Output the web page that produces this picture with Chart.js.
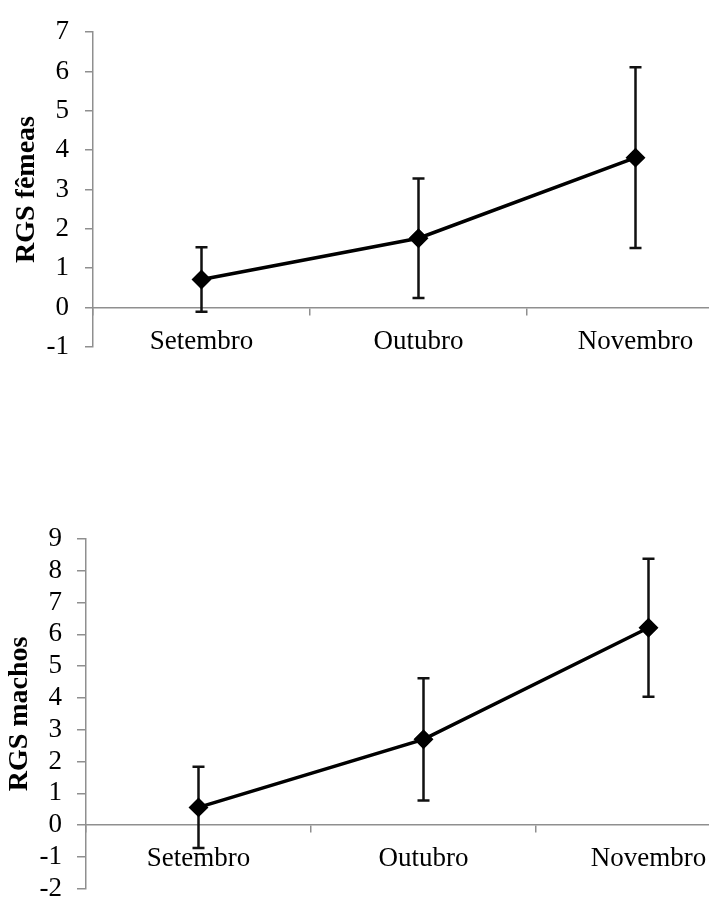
<!DOCTYPE html>
<html>
<head>
<meta charset="utf-8">
<script src="https://cdn.jsdelivr.net/npm/chart.js@4.4.1/dist/chart.umd.min.js"></script>
<style>
  html, body { margin: 0; padding: 0; background: #fff; overflow: hidden; width: 709px; height: 899px; }
  canvas { position: absolute; left: 0; }
  #chartFemeas { top: 0; }
  #chartMachos { top: 500px; }
</style>
</head>
<body>
<canvas id="chartFemeas" width="760" height="379"></canvas>
<canvas id="chartMachos" width="780" height="420"></canvas>
<script>
// Meses amostrados
const months = ["Setembro", "Outubro", "Novembro"];

// RGS médio e desvio padrão - fêmeas
const femeasMedia = [0.71, 1.76, 3.81];
const femeasDesvio = [0.82, 1.52, 2.30];

// RGS médio e desvio padrão - machos
const machosMedia = [0.56, 2.70, 6.21];
const machosDesvio = [1.28, 1.92, 2.17];

const axisGray = "#8f8f8f";
const fontFamily = "'Liberation Serif', 'Times New Roman', serif";

// Desenha as barras de erro usando as escalas do gráfico
const errorBarPlugin = {
    id: "errorBars",
    beforeDatasetsDraw(chart) {
        const ctx = chart.ctx;
        const yScale = chart.scales.y;
        const meta = chart.getDatasetMeta(0);
        const dataset = chart.data.datasets[0];
        ctx.save();
        ctx.strokeStyle = "#111";
        ctx.lineWidth = 2.5;
        meta.data.forEach((point, i) => {
            const mean = dataset.data[i];
            const sd = dataset.errors[i];
            const top = yScale.getPixelForValue(mean + sd);
            const bottom = yScale.getPixelForValue(mean - sd);
            const x = point.x;
            ctx.beginPath();
            ctx.moveTo(x, top);
            ctx.lineTo(x, bottom);
            ctx.moveTo(x - 6, top);
            ctx.lineTo(x + 6, top);
            ctx.moveTo(x - 6, bottom);
            ctx.lineTo(x + 6, bottom);
            ctx.stroke();
        });
        ctx.restore();
    },
};

function generateRgsChart(canvasId, values, errors, cfg) {
    const ctx = document.getElementById(canvasId).getContext("2d");
    new Chart(ctx, {
        type: "line",
        data: {
            labels: months,
            datasets: [
                {
                    data: values,
                    errors: errors,
                    borderColor: "#000",
                    borderWidth: 3.5,
                    pointStyle: "rectRot",
                    pointRadius: 7.5,
                    pointBackgroundColor: "#000",
                    pointBorderColor: "#000",
                    tension: 0,
                },
            ],
        },
        options: {
            responsive: false,
            animation: false,
            devicePixelRatio: 1,
            layout: { padding: cfg.padding },
            plugins: {
                legend: { display: false },
                tooltip: { enabled: false },
            },
            scales: {
                x: {
                    type: "category",
                    offset: true,
                    position: { y: 0 },
                    border: { color: axisGray, width: 1.5 },
                    grid: {
                        offset: true,
                        drawOnChartArea: false,
                        color: axisGray,
                        lineWidth: 1.5,
                        tickLength: 7,
                    },
                    ticks: {
                        color: "#000",
                        padding: 11,
                        maxRotation: 0,
                        autoSkip: false,
                        font: { family: fontFamily, size: 27 },
                    },
                    afterFit: (scale) => {
                        scale.height = 0;
                    },
                },
                y: {
                    min: cfg.min,
                    max: cfg.max,
                    border: { color: axisGray, width: 1.5 },
                    grid: {
                        drawOnChartArea: false,
                        color: axisGray,
                        lineWidth: 1.5,
                        tickLength: cfg.tickLength,
                    },
                    ticks: {
                        stepSize: 1,
                        autoSkip: false,
                        color: "#000",
                        padding: cfg.tickPadding,
                        font: { family: fontFamily, size: 27 },
                    },
                    title: {
                        display: true,
                        text: cfg.title,
                        color: "#000",
                        padding: { top: cfg.titlePadding, bottom: 0 },
                        font: { family: fontFamily, size: 28, weight: "bold" },
                    },
                    afterFit: (scale) => {
                        scale.width = cfg.axisLeft;
                    },
                },
            },
        },
        plugins: [errorBarPlugin],
    });
}

generateRgsChart("chartFemeas", femeasMedia, femeasDesvio, {
    title: "RGS fêmeas",
    min: -1,
    max: 7,
    axisLeft: 93,
    tickLength: 8,
    tickPadding: 16,
    titlePadding: 10,
    padding: { left: 0, right: 16, top: 24, bottom: 30 },
});

generateRgsChart("chartMachos", machosMedia, machosDesvio, {
    title: "RGS machos",
    min: -2,
    max: 9,
    axisLeft: 86,
    tickLength: 9,
    tickPadding: 15,
    titlePadding: 3,
    padding: { left: 0, right: 19, top: 39, bottom: 31 },
});
</script>
</body>
</html>
